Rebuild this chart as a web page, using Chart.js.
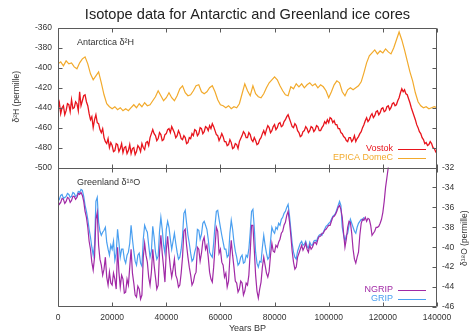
<!DOCTYPE html>
<html>
<head>
<meta charset="utf-8">
<script src="https://cdn.jsdelivr.net/npm/chart.js@4/dist/chart.umd.min.js"></script>
<style>
  html, body { margin: 0; padding: 0; background: #fff; }
  #wrap { width: 472px; height: 336px; position: relative; }
</style>
</head>
<body>
<div id="wrap"><canvas id="c" width="472" height="336"></canvas></div>
<script>
// Ice-core isotope records, sampled at a fixed spacing in years BP starting at 0.
const FINE_STEP = 500;    // Vostok, NGRIP, GRIP
const COARSE_STEP = 1000; // EPICA DomeC

// Antarctica, deuterium (permille), one row = 5000 years
const vostokDeltaH = [
  -441,-435,-446,-440,-438,-447,-443,-436,-437,-444,
  -432,-441,-440,-434,-436,-443,-424,-438,-433,-428,
  -427,-434,-438,-446,-452,-449,-460,-452,-447,-455,
  -456,-462,-465,-461,-470,-474,-476,-471,-480,-475,
  -478,-484,-483,-476,-477,-484,-481,-476,-485,-480,
  -479,-486,-483,-477,-486,-481,-480,-487,-484,-478,
  -480,-484,-476,-480,-482,-475,-474,-478,-470,-466,
  -462,-466,-468,-473,-471,-465,-467,-473,-472,-467,
  -466,-462,-461,-465,-459,-462,-465,-470,-468,-463,
  -466,-471,-472,-468,-470,-476,-475,-470,-471,-466,
  -468,-462,-463,-468,-466,-460,-461,-466,-464,-459,
  -460,-463,-458,-461,-456,-459,-463,-467,-468,-473,
  -470,-466,-469,-474,-474,-478,-477,-472,-475,-481,
  -480,-476,-477,-481,-474,-471,-468,-464,-466,-470,
  -470,-465,-467,-472,-474,-470,-473,-477,-476,-472,
  -470,-466,-463,-467,-462,-458,-460,-465,-463,-459,
  -457,-462,-460,-456,-455,-459,-458,-454,-452,-449,
  -447,-451,-455,-459,-460,-456,-458,-463,-465,-469,
  -468,-464,-463,-459,-461,-465,-463,-459,-460,-464,
  -462,-458,-459,-463,-463,-460,-458,-454,-456,-452,
  -455,-450,-451,-455,-453,-457,-457,-461,-461,-465,
  -466,-469,-470,-473,-474,-470,-470,-474,-472,-468,
  -474,-471,-469,-466,-464,-460,-457,-453,-450,-454,
  -452,-448,-446,-450,-448,-444,-443,-447,-445,-441,
  -440,-444,-443,-439,-438,-442,-440,-436,-435,-438,
  -437,-433,-430,-425,-421,-424,-422,-426,-427,-431,
  -435,-440,-444,-448,-452,-457,-460,-464,-466,-470,
  -472,-476,-475,-478,-477,-474,-476,-480,-481,-484,
  -486
];
// one row = 10000 years
const epicaDeltaH = [
  -396,-394,-398,-393,-396,-395,-399,-401,-395,-391,
  -389,-396,-406,-412,-408,-404,-415,-427,-436,-439,
  -441,-439,-442,-440,-443,-441,-443,-440,-437,-440,
  -436,-439,-435,-438,-437,-433,-429,-423,-428,-433,
  -430,-425,-430,-433,-428,-421,-418,-425,-428,-427,
  -423,-418,-417,-424,-426,-424,-420,-418,-424,-432,
  -437,-438,-440,-438,-441,-439,-440,-436,-426,-416,
  -423,-428,-418,-426,-429,-430,-426,-420,-415,-412,
  -409,-412,-418,-423,-427,-428,-419,-421,-416,-419,
  -416,-420,-417,-415,-418,-416,-420,-417,-419,-423,
  -430,-424,-417,-413,-415,-424,-428,-422,-420,-422,
  -420,-418,-414,-405,-395,-388,-385,-382,-386,-383,
  -385,-381,-384,-386,-380,-372,-364,-372,-382,-393,
  -404,-413,-425,-434,-438,-440,-439,-441,-440,-439,
  -440
];

// Greenland, oxygen-18 (permille), one row = 5000 years
const ngripDelta18O = [
  -35.4,-35.7,-35.5,-35.1,-35.2,-35.6,-35.4,-35.0,-35.1,-35.5,
  -35.3,-34.9,-34.9,-35.2,-35.0,-34.6,-34.7,-34.5,-34.8,-35.4,
  -36.4,-37.0,-38.0,-39.4,-40.2,-41.5,-42.3,-41.0,-37.2,-36.5,
  -39.8,-41.2,-41.8,-42.8,-42.2,-41.0,-43.0,-43.8,-42.5,-43.6,
  -43.8,-42.6,-43.2,-44.2,-40.0,-42.5,-44.0,-42.8,-43.2,-44.6,
  -44.5,-43.2,-43.8,-42.0,-40.2,-42.6,-43.6,-44.8,-45.0,-43.9,
  -44.2,-45.2,-44.8,-41.0,-39.6,-40.8,-41.5,-43.0,-43.8,-42.5,
  -40.2,-41.8,-43.0,-44.2,-43.8,-40.5,-38.8,-40.6,-42.0,-43.5,
  -40.3,-38.9,-40.6,-42.0,-43.0,-42.2,-41.2,-42.8,-43.2,-44.0,
  -43.8,-42.6,-41.0,-38.4,-38.2,-39.8,-41.0,-42.0,-42.8,-43.8,
  -43.5,-42.8,-42.5,-40.0,-40.2,-41.4,-40.6,-39.4,-39.0,-40.2,
  -39.8,-41.0,-42.5,-43.2,-43.5,-42.0,-40.0,-38.0,-38.4,-40.6,
  -40.2,-41.5,-41.8,-43.0,-42.6,-44.0,-43.4,-41.0,-39.3,-40.8,
  -42.0,-43.4,-43.6,-44.5,-44.2,-43.4,-43.6,-44.8,-44.4,-43.6,
  -43.8,-42.8,-40.5,-37.8,-37.8,-40.2,-42.8,-44.4,-45.1,-44.2,
  -43.5,-42.0,-41.0,-41.8,-42.6,-43.0,-42.4,-40.8,-39.6,-40.4,
  -40.5,-39.8,-40.0,-39.5,-39.2,-38.6,-38.4,-37.8,-37.5,-36.8,
  -36.4,-37.4,-38.8,-40.4,-41.5,-42.2,-42.0,-41.0,-40.6,-40.2,
  -39.8,-40.3,-40.0,-39.6,-40.2,-40.5,-39.8,-40.2,-40.0,-39.6,
  -39.5,-39.7,-39.2,-38.9,-38.9,-38.6,-38.6,-38.3,-38.2,-38.0,
  -37.8,-37.8,-37.4,-37.0,-36.9,-36.7,-36.4,-36.0,-35.8,-36.2,
  -37.0,-38.6,-40.0,-39.2,-38.0,-37.4,-37.5,-38.6,-40.2,-41.2,
  -41.6,-41.0,-40.5,-38.8,-37.6,-37.2,-37.3,-37.0,-37.4,-37.1,
  -37.2,-37.8,-38.8,-38.6,-38.4,-38.0,-38.0,-37.9,-37.6,-37.2,
  -36.5,-35.4,-34.0,-33.0,-32.0
];
const gripDelta18O = [
  -35.0,-35.2,-34.8,-34.7,-35.1,-35.0,-34.9,-34.6,-34.7,-35.0,
  -34.9,-34.5,-34.6,-34.9,-34.8,-34.4,-34.5,-34.2,-34.3,-34.9,
  -35.8,-36.4,-37.2,-38.2,-39.0,-40.0,-40.8,-39.8,-35.4,-35.0,
  -37.5,-38.4,-38.8,-38.5,-38.3,-38.0,-39.5,-40.2,-40.8,-39.8,
  -40.2,-39.4,-41.3,-40.6,-38.2,-39.5,-41.0,-40.2,-40.2,-41.2,
  -41.6,-40.8,-40.5,-39.6,-37.8,-39.2,-40.4,-41.4,-41.8,-40.8,
  -40.6,-41.6,-41.9,-39.2,-37.8,-38.2,-38.5,-39.8,-41.0,-40.4,
  -37.9,-39.0,-40.5,-41.2,-40.9,-38.4,-37.0,-38.2,-39.8,-40.6,
  -38.2,-37.4,-38.0,-39.2,-40.2,-39.4,-38.6,-39.6,-40.5,-41.2,
  -41.0,-40.2,-38.9,-36.6,-36.3,-37.6,-38.8,-39.6,-40.6,-41.4,
  -41.2,-40.5,-40.0,-38.2,-38.3,-39.2,-38.7,-37.6,-37.4,-37.8,
  -38.2,-39.2,-40.5,-40.8,-41.0,-39.6,-37.8,-36.4,-36.3,-37.2,
  -38.0,-38.8,-39.5,-40.2,-40.2,-41.0,-40.8,-38.6,-37.3,-38.2,
  -39.5,-40.4,-41.0,-41.8,-41.6,-41.0,-40.8,-41.6,-41.5,-40.8,
  -41.0,-40.2,-38.5,-36.4,-36.2,-38.0,-40.5,-41.6,-42.0,-41.4,
  -41.5,-40.0,-38.8,-39.8,-40.6,-41.2,-41.0,-39.4,-38.0,-38.4,
  -38.6,-38.0,-38.2,-37.6,-37.8,-37.2,-37.0,-36.6,-36.4,-36.0,
  -35.7,-36.8,-38.2,-39.6,-40.5,-41.0,-41.2,-40.4,-40.0,-39.6,
  -39.4,-39.8,-39.7,-39.4,-39.9,-40.1,-39.5,-39.8,-39.8,-39.4,
  -39.3,-39.4,-39.0,-38.8,-38.7,-38.8,-38.5,-38.2,-37.9,-37.8,
  -37.6,-37.5,-37.2,-36.9,-36.8,-36.6,-36.2,-35.8,-35.4,-35.8,
  -38.0,-38.8,-39.4,-38.8,-38.6,-37.8,-37.2,-37.6,-38.0,-38.4,
  -38.6,-38.0,-37.6,-37.4,-37.2,-37.3,-37.0
];

// Axis ticks
const yearTicks = [0, 20000, 40000, 60000, 80000, 100000, 120000, 140000];
const deltaHTicks = [-500, -480, -460, -440, -420, -400, -380, -360];
const delta18OTicks = [-46, -44, -42, -40, -38, -36, -34, -32];

const seriesColors = {
  vostok: '#e8141c',
  epica: '#f2aa2c',
  ngrip: '#a12aa6',
  grip: '#4a9ff0'
};

const FONT = '"Liberation Sans", Arial, Helvetica, sans-serif';
const INK = '#333';
const FRAME = '#5a5a5a';

function toPoints(values, step) {
  return values.map((v, i) => ({ x: i * step, y: v }));
}

// Each panel spans half of a doubled axis range, so the two records sit one above the other.
const H_MIN = deltaHTicks[0] - (deltaHTicks[deltaHTicks.length - 1] - deltaHTicks[0]);
const O_MAX = delta18OTicks[delta18OTicks.length - 1] + (delta18OTicks[delta18OTicks.length - 1] - delta18OTicks[0]);

function setTicks(list) {
  return scale => { scale.ticks = list.map(v => ({ value: v })); };
}

const framePlugin = {
  id: 'frame',
  afterDatasetsDraw(chart) {
    const { ctx, chartArea: a, scales } = chart;
    const { x, y, y2 } = scales;
    const L = Math.round(a.left) + 0.5;
    const R = Math.round(a.right) - 0.5;
    const T = Math.round(a.top) + 0.5;
    const B = Math.round(a.bottom) - 0.5;
    const M = Math.round(y.getPixelForValue(deltaHTicks[0])) + 0.5;
    const TL = 4;
    ctx.save();
    ctx.strokeStyle = FRAME;
    ctx.lineWidth = 1;
    ctx.beginPath();
    ctx.rect(L, T, R - L, B - T);
    ctx.moveTo(L, M); ctx.lineTo(R, M);
    // year ticks: top border, shared border, bottom border
    x.ticks.forEach(t => {
      const px = Math.round(x.getPixelForValue(t.value)) + 0.5;
      ctx.moveTo(px, T); ctx.lineTo(px, T + TL);
      ctx.moveTo(px, M - TL); ctx.lineTo(px, M + TL);
      ctx.moveTo(px, B); ctx.lineTo(px, B - TL);
    });
    // deltaH ticks on both sides of the upper panel
    y.ticks.forEach(t => {
      const py = Math.round(y.getPixelForValue(t.value)) + 0.5;
      ctx.moveTo(L, py); ctx.lineTo(L + TL, py);
      ctx.moveTo(R, py); ctx.lineTo(R - TL, py);
    });
    // delta18O ticks on the right of the lower panel
    y2.ticks.forEach(t => {
      const py = Math.round(y2.getPixelForValue(t.value)) + 0.5;
      ctx.moveTo(R, py); ctx.lineTo(R - TL, py);
    });
    ctx.stroke();
    ctx.restore();
  },
  afterDraw(chart) {
    const { ctx, chartArea: a, scales } = chart;
    const M = scales.y.getPixelForValue(deltaHTicks[0]);
    const B = a.bottom;
    ctx.save();
    ctx.textBaseline = 'middle';

    // title
    ctx.fillStyle = '#222';
    ctx.font = '14.6px ' + FONT;
    ctx.textAlign = 'center';
    ctx.fillText('Isotope data for Antarctic and Greenland ice cores', (a.left + a.right) / 2, 15);

    // panel captions
    ctx.fillStyle = INK;
    ctx.font = '9px ' + FONT;
    ctx.textAlign = 'left';
    ctx.fillText('Antarctica \u03b4\u00b2H', a.left + 19, a.top + 15);
    ctx.fillText('Greenland \u03b4\u00b9\u2078O', a.left + 19, M + 15.5);

    // axis titles
    ctx.textAlign = 'center';
    ctx.font = '8.5px ' + FONT;
    ctx.save();
    ctx.translate(17, (a.top + M) / 2 - 1);
    ctx.rotate(-Math.PI / 2);
    ctx.fillText('\u03b4\u00b2H (permille)', 0, 0);
    ctx.restore();
    ctx.save();
    ctx.translate(465, (M + B) / 2 + 1);
    ctx.rotate(-Math.PI / 2);
    ctx.fillText('\u03b4\u00b9\u2078O (permille)', 0, 0);
    ctx.restore();

    // in-panel keys
    const keys = [
      { label: 'Vostok', color: seriesColors.vostok, y: M - 18.5 },
      { label: 'EPICA DomeC', color: seriesColors.epica, y: M - 10 },
      { label: 'NGRIP', color: seriesColors.ngrip, y: B - 17 },
      { label: 'GRIP', color: seriesColors.grip, y: B - 8 }
    ];
    ctx.font = '9px ' + FONT;
    ctx.textAlign = 'right';
    keys.forEach(k => {
      ctx.fillStyle = k.color;
      ctx.fillText(k.label, a.right - 44, k.y);
      ctx.strokeStyle = k.color;
      ctx.lineWidth = 1;
      ctx.beginPath();
      ctx.moveTo(a.right - 39, Math.round(k.y) + 0.5);
      ctx.lineTo(a.right - 11, Math.round(k.y) + 0.5);
      ctx.stroke();
    });
    ctx.restore();
  }
};

const lineStyle = { pointRadius: 0, tension: 0, fill: false };

new Chart(document.getElementById('c'), {
  type: 'line',
  data: {
    datasets: [
      { label: 'Vostok', data: toPoints(vostokDeltaH, FINE_STEP), borderColor: seriesColors.vostok, borderWidth: 1.3, yAxisID: 'y', ...lineStyle },
      { label: 'EPICA DomeC', data: toPoints(epicaDeltaH, COARSE_STEP), borderColor: seriesColors.epica, borderWidth: 1.2, yAxisID: 'y', ...lineStyle },
      { label: 'NGRIP', data: toPoints(ngripDelta18O, FINE_STEP), borderColor: seriesColors.ngrip, borderWidth: 1.2, yAxisID: 'y2', ...lineStyle },
      { label: 'GRIP', data: toPoints(gripDelta18O, FINE_STEP), borderColor: seriesColors.grip, borderWidth: 1.2, yAxisID: 'y2', ...lineStyle }
    ]
  },
  options: {
    responsive: false,
    animation: false,
    devicePixelRatio: 1,
    layout: { padding: { top: 28, left: 0, right: 0, bottom: 0 } },
    plugins: { legend: { display: false }, title: { display: false }, tooltip: { enabled: false } },
    scales: {
      x: {
        type: 'linear',
        min: yearTicks[0],
        max: yearTicks[yearTicks.length - 1],
        afterBuildTicks: setTicks(yearTicks),
        afterFit: s => { s.height = 29; },
        grid: { display: false, drawTicks: false },
        border: { display: false },
        ticks: {
          autoSkip: false, maxRotation: 0, padding: 6,
          color: INK, font: { family: FONT, size: 8.5 },
          callback: v => String(v)
        },
        title: { display: true, text: 'Years BP', color: INK, font: { family: FONT, size: 9 }, padding: { top: 0, bottom: 2 } }
      },
      y: {
        type: 'linear',
        position: 'left',
        min: H_MIN,
        max: deltaHTicks[deltaHTicks.length - 1],
        afterBuildTicks: setTicks(deltaHTicks),
        afterFit: s => { s.width = 58; },
        grid: { display: false, drawTicks: false },
        border: { display: false },
        ticks: { padding: 6, color: INK, font: { family: FONT, size: 8.5 }, callback: v => String(v) }
      },
      y2: {
        type: 'linear',
        position: 'right',
        min: delta18OTicks[0],
        max: O_MAX,
        afterBuildTicks: setTicks(delta18OTicks),
        afterFit: s => { s.width = 35; },
        grid: { display: false, drawTicks: false },
        border: { display: false },
        ticks: { padding: 5, color: INK, font: { family: FONT, size: 8.5 }, callback: v => String(v) }
      }
    }
  },
  plugins: [framePlugin]
});
</script>
</body>
</html>
